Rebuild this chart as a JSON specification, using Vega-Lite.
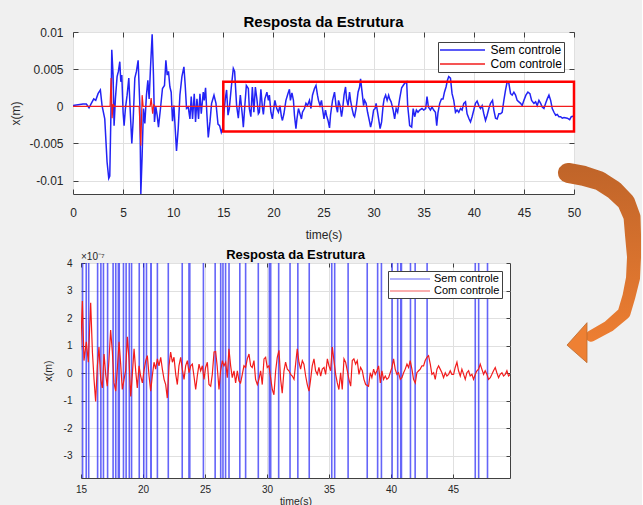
{
  "$schema": "https://vega.github.io/schema/vega-lite/v6.json",
  "background": "#f0f0f0",
  "padding": {"left": 9, "top": 14, "right": 0, "bottom": 0},
  "autosize": {"type": "pad"},
  "config": {
    "font": "Liberation Sans",
    "view": {"stroke": "#404040", "strokeWidth": 1, "fill": "white"},
    "axis": {"domain": false, "gridColor": "#e0e0e0", "tickColor": "#404040", "labelColor": "#262626", "titleColor": "#262626", "labelFont": "Liberation Sans", "titleFont": "Liberation Sans", "titleFontWeight": "normal", "labelFlush": false, "labelOverlap": false},
    "title": {"frame": "group", "anchor": "middle", "color": "#000000", "font": "Liberation Sans", "fontWeight": "bold"},
    "legend": {"title": null, "strokeColor": "#404040", "fillColor": "white", "labelColor": "#000000", "labelFont": "Liberation Sans"}
  },
  "datasets": {
    "blue": [
      {"t": 0, "v": 0.0001}, {"t": 1.0, "v": 0.0003}, {"t": 1.33, "v": 0.0003}, {"t": 1.6, "v": -0.0002}, {"t": 1.83, "v": 0.0004},
      {"t": 2.07, "v": 0.001}, {"t": 2.27, "v": 0.0008}, {"t": 2.5, "v": 0.0017}, {"t": 2.73, "v": 0.0022}, {"t": 2.9, "v": 0.0001},
      {"t": 3.17, "v": -0.0017}, {"t": 3.4, "v": -0.0075}, {"t": 3.57, "v": -0.0097}, {"t": 3.67, "v": -0.0094}, {"t": 3.8, "v": 0.0001},
      {"t": 3.87, "v": 0.0076}, {"t": 4.0, "v": 0.0042}, {"t": 4.1, "v": -0.0026}, {"t": 4.23, "v": 0.001}, {"t": 4.4, "v": 0.004},
      {"t": 4.53, "v": 0.0047}, {"t": 4.67, "v": 0.006}, {"t": 4.77, "v": 0.0033}, {"t": 4.87, "v": 0.0042}, {"t": 5.0, "v": -0.0008},
      {"t": 5.1, "v": -0.0026}, {"t": 5.23, "v": -0.0003}, {"t": 5.4, "v": 0.0015}, {"t": 5.57, "v": 0.0038}, {"t": 5.7, "v": -0.0003},
      {"t": 5.87, "v": -0.005}, {"t": 6.0, "v": -0.002}, {"t": 6.17, "v": 0.0038}, {"t": 6.33, "v": 0.0047}, {"t": 6.5, "v": 0.0062},
      {"t": 6.67, "v": 0.0001}, {"t": 6.77, "v": -0.0118}, {"t": 6.9, "v": -0.0066}, {"t": 7.03, "v": -0.0003}, {"t": 7.17, "v": -0.0023},
      {"t": 7.33, "v": 0.0015}, {"t": 7.47, "v": 0.0035}, {"t": 7.6, "v": 0.001}, {"t": 7.73, "v": 0.0051}, {"t": 7.9, "v": 0.0097},
      {"t": 8.03, "v": 0.0042}, {"t": 8.13, "v": -0.0021}, {"t": 8.27, "v": -0.0001}, {"t": 8.4, "v": -0.0012}, {"t": 8.53, "v": -0.0028},
      {"t": 8.73, "v": -0.0003}, {"t": 8.93, "v": 0.0024}, {"t": 9.13, "v": 0.0028}, {"t": 9.27, "v": 0.0062}, {"t": 9.4, "v": 0.0042},
      {"t": 9.53, "v": 0.0047}, {"t": 9.67, "v": 0.0026}, {"t": 9.8, "v": 0.0019}, {"t": 9.93, "v": -0.002}, {"t": 10.07, "v": 0.0001},
      {"t": 10.2, "v": -0.003}, {"t": 10.33, "v": -0.006}, {"t": 10.5, "v": -0.003}, {"t": 10.67, "v": 0.0015}, {"t": 10.87, "v": 0.004},
      {"t": 11.07, "v": 0.0053}, {"t": 11.2, "v": 0.0028}, {"t": 11.33, "v": -0.0003}, {"t": 11.5, "v": -0.0001}, {"t": 11.67, "v": -0.0017},
      {"t": 11.8, "v": 0.0013}, {"t": 11.93, "v": -0.0017}, {"t": 12.1, "v": 0.0017}, {"t": 12.23, "v": -0.0021}, {"t": 12.37, "v": 0.001},
      {"t": 12.53, "v": -0.0017}, {"t": 12.67, "v": 0.0017}, {"t": 12.8, "v": -0.001}, {"t": 13.0, "v": 0.0019}, {"t": 13.1, "v": 0.0008},
      {"t": 13.23, "v": 0.0025}, {"t": 13.37, "v": -0.0012}, {"t": 13.5, "v": -0.0042}, {"t": 13.67, "v": -0.0021}, {"t": 13.83, "v": 0.0004},
      {"t": 14.07, "v": 0.0015}, {"t": 14.27, "v": 0.0004}, {"t": 14.47, "v": -0.0024}, {"t": 14.63, "v": -0.0026}, {"t": 14.8, "v": -0.0035},
      {"t": 14.93, "v": -0.003}, {"t": 15.07, "v": -0.0008}, {"t": 15.2, "v": 0.001}, {"t": 15.33, "v": 0.0022}, {"t": 15.47, "v": -0.0012},
      {"t": 15.6, "v": -0.0003}, {"t": 15.8, "v": 0.0026}, {"t": 16.0, "v": 0.0051}, {"t": 16.13, "v": 0.0047}, {"t": 16.33, "v": 0.0001},
      {"t": 16.5, "v": -0.0016}, {"t": 16.7, "v": 0.0015}, {"t": 16.9, "v": -0.0012}, {"t": 17.0, "v": -0.0028}, {"t": 17.15, "v": 0.0001},
      {"t": 17.3, "v": 0.0028}, {"t": 17.5, "v": 0.0024}, {"t": 17.6, "v": -0.0003}, {"t": 17.75, "v": -0.0014}, {"t": 17.9, "v": 0.0026},
      {"t": 18.05, "v": -0.0008}, {"t": 18.2, "v": 0.0026}, {"t": 18.35, "v": 0.001}, {"t": 18.5, "v": -0.001}, {"t": 18.6, "v": -0.0008},
      {"t": 18.75, "v": 0.0023}, {"t": 18.9, "v": -0.0001}, {"t": 19.0, "v": -0.0011}, {"t": 19.15, "v": 0.001}, {"t": 19.35, "v": 0.0019},
      {"t": 19.5, "v": 0.0008}, {"t": 19.6, "v": 0.0015}, {"t": 19.75, "v": -0.0008}, {"t": 19.9, "v": -0.0017}, {"t": 20.03, "v": -0.0003},
      {"t": 20.15, "v": 0.0008}, {"t": 20.33, "v": -0.0003}, {"t": 20.5, "v": -0.0008}, {"t": 20.65, "v": 0.0001}, {"t": 20.8, "v": -0.0014},
      {"t": 20.9, "v": -0.0019}, {"t": 21.05, "v": -0.001}, {"t": 21.25, "v": 0.0008}, {"t": 21.45, "v": 0.0017}, {"t": 21.6, "v": 0.0023},
      {"t": 21.7, "v": 0.0008}, {"t": 21.85, "v": 0.0018}, {"t": 22.0, "v": 0.0008}, {"t": 22.1, "v": -0.0012}, {"t": 22.25, "v": -0.003},
      {"t": 22.35, "v": -0.0017}, {"t": 22.5, "v": -0.0003}, {"t": 22.65, "v": -0.001}, {"t": 22.8, "v": -0.0017}, {"t": 22.9, "v": -0.0008},
      {"t": 23.1, "v": -0.0003}, {"t": 23.25, "v": 0.0004}, {"t": 23.4, "v": 0.0001}, {"t": 23.6, "v": 0.0008}, {"t": 23.75, "v": -0.0003},
      {"t": 23.9, "v": 0.0015}, {"t": 24.1, "v": 0.0024}, {"t": 24.25, "v": 0.0028}, {"t": 24.4, "v": 0.0015}, {"t": 24.5, "v": 0.0008},
      {"t": 24.65, "v": 0.0001}, {"t": 24.8, "v": 0.0008}, {"t": 24.9, "v": -0.0003}, {"t": 25.05, "v": -0.0017}, {"t": 25.2, "v": -0.0005},
      {"t": 25.3, "v": -0.0012}, {"t": 25.45, "v": -0.0019}, {"t": 25.6, "v": -0.0029}, {"t": 25.7, "v": -0.0012}, {"t": 25.9, "v": 0.0008},
      {"t": 26.1, "v": 0.0019}, {"t": 26.25, "v": 0.0001}, {"t": 26.4, "v": -0.0008}, {"t": 26.5, "v": 0.0008}, {"t": 26.65, "v": 0.0001},
      {"t": 26.8, "v": -0.0014}, {"t": 26.9, "v": -0.0005}, {"t": 27.05, "v": 0.0015}, {"t": 27.2, "v": 0.0026}, {"t": 27.3, "v": 0.001},
      {"t": 27.45, "v": 0.0001}, {"t": 27.6, "v": 0.0019}, {"t": 27.7, "v": 0.0008}, {"t": 27.85, "v": -0.0003}, {"t": 28.0, "v": -0.0012},
      {"t": 28.1, "v": -0.0014}, {"t": 28.25, "v": -0.0003}, {"t": 28.45, "v": 0.0019}, {"t": 28.6, "v": 0.0026}, {"t": 28.7, "v": 0.0037},
      {"t": 28.85, "v": 0.0019}, {"t": 29.0, "v": 0.0001}, {"t": 29.1, "v": 0.0008}, {"t": 29.25, "v": 0.0004}, {"t": 29.4, "v": -0.0008},
      {"t": 29.6, "v": -0.0021}, {"t": 29.7, "v": -0.0028}, {"t": 29.85, "v": -0.0019}, {"t": 30.0, "v": -0.0005}, {"t": 30.15, "v": -0.0003},
      {"t": 30.25, "v": 0.0004}, {"t": 30.4, "v": -0.0008}, {"t": 30.5, "v": -0.0017}, {"t": 30.65, "v": -0.003}, {"t": 30.8, "v": -0.0021},
      {"t": 30.95, "v": 0.0001}, {"t": 31.05, "v": 0.001}, {"t": 31.2, "v": 0.0015}, {"t": 31.35, "v": 0.0008}, {"t": 31.5, "v": 0.0015},
      {"t": 31.6, "v": 0.001}, {"t": 31.75, "v": 0.0006}, {"t": 31.95, "v": -0.0005}, {"t": 32.1, "v": -0.0017}, {"t": 32.25, "v": -0.0003},
      {"t": 32.4, "v": -0.0008}, {"t": 32.6, "v": 0.001}, {"t": 32.8, "v": 0.0025}, {"t": 32.95, "v": 0.0028}, {"t": 33.1, "v": 0.0031},
      {"t": 33.3, "v": 0.0033}, {"t": 33.4, "v": 0.0001}, {"t": 33.6, "v": -0.0026}, {"t": 33.8, "v": -0.0028}, {"t": 33.95, "v": -0.0003},
      {"t": 34.1, "v": -0.0014}, {"t": 34.27, "v": -0.0005}, {"t": 34.43, "v": -0.0008}, {"t": 34.6, "v": -0.0005}, {"t": 34.83, "v": -0.0003},
      {"t": 35.0, "v": -0.0005}, {"t": 35.2, "v": -0.0003}, {"t": 35.33, "v": 0.0013}, {"t": 35.47, "v": -0.0001}, {"t": 35.67, "v": -0.0005},
      {"t": 35.83, "v": -0.0001}, {"t": 36.0, "v": -0.0005}, {"t": 36.17, "v": -0.0008}, {"t": 36.3, "v": -0.0026}, {"t": 36.43, "v": -0.0008},
      {"t": 36.6, "v": 0.0004}, {"t": 36.77, "v": 0.001}, {"t": 36.93, "v": 0.001}, {"t": 37.07, "v": 0.0019}, {"t": 37.23, "v": 0.0026},
      {"t": 37.37, "v": 0.0035}, {"t": 37.5, "v": 0.004}, {"t": 37.67, "v": 0.0038}, {"t": 37.83, "v": 0.0017}, {"t": 38.0, "v": 0.0008},
      {"t": 38.17, "v": -0.0008}, {"t": 38.33, "v": -0.0005}, {"t": 38.5, "v": -0.0008}, {"t": 38.67, "v": -0.0003}, {"t": 38.83, "v": -0.0005},
      {"t": 39.0, "v": 0.0004}, {"t": 39.17, "v": 0.0006}, {"t": 39.33, "v": -0.001}, {"t": 39.53, "v": -0.0017}, {"t": 39.67, "v": -0.0021},
      {"t": 39.83, "v": -0.0014}, {"t": 40.0, "v": -0.0005}, {"t": 40.17, "v": 0.0004}, {"t": 40.33, "v": 0.0007}, {"t": 40.5, "v": 0.0001},
      {"t": 40.67, "v": -0.0003}, {"t": 40.83, "v": 0.0001}, {"t": 41.0, "v": -0.001}, {"t": 41.17, "v": -0.0019}, {"t": 41.33, "v": -0.0012},
      {"t": 41.5, "v": -0.0003}, {"t": 41.67, "v": 0.0004}, {"t": 41.87, "v": 0.0008}, {"t": 42.0, "v": -0.0005}, {"t": 42.17, "v": -0.0016},
      {"t": 42.33, "v": -0.0017}, {"t": 42.5, "v": -0.001}, {"t": 42.67, "v": -0.001}, {"t": 42.83, "v": -0.0008}, {"t": 43.0, "v": 0.0008},
      {"t": 43.17, "v": 0.0022}, {"t": 43.33, "v": 0.0033}, {"t": 43.5, "v": 0.0031}, {"t": 43.67, "v": 0.0017}, {"t": 43.83, "v": 0.0015},
      {"t": 44.0, "v": 0.0019}, {"t": 44.17, "v": 0.0015}, {"t": 44.33, "v": 0.0008}, {"t": 44.5, "v": 0.0006}, {"t": 44.67, "v": 0.0004},
      {"t": 44.83, "v": 0.0001}, {"t": 45.0, "v": 0.0008}, {"t": 45.2, "v": 0.0015}, {"t": 45.4, "v": 0.0019}, {"t": 45.6, "v": 0.0017},
      {"t": 45.77, "v": 0.0008}, {"t": 46.0, "v": 0.0004}, {"t": 46.17, "v": 0.0006}, {"t": 46.33, "v": 0.0001}, {"t": 46.5, "v": 0.0008},
      {"t": 46.67, "v": 0.0004}, {"t": 46.83, "v": -0.0001}, {"t": 47.0, "v": -0.0003}, {"t": 47.17, "v": 0.0004}, {"t": 47.33, "v": 0.001},
      {"t": 47.5, "v": 0.0015}, {"t": 47.67, "v": 0.0008}, {"t": 47.83, "v": -0.0003}, {"t": 48.0, "v": -0.0008}, {"t": 48.17, "v": -0.0012},
      {"t": 48.33, "v": -0.0011}, {"t": 48.5, "v": -0.0014}, {"t": 48.67, "v": -0.0014}, {"t": 48.83, "v": -0.0016}, {"t": 49.0, "v": -0.0015},
      {"t": 49.33, "v": -0.0016}, {"t": 49.57, "v": -0.0018}, {"t": 49.73, "v": -0.0014}, {"t": 50.0, "v": -0.0013}
    ],
    "red": [
      {"t": 0, "v": 0}, {"t": 3.7, "v": 0}, {"t": 3.8, "v": 0.0038}, {"t": 3.9, "v": -0.0016}, {"t": 4.0, "v": 0.0003}, {"t": 4.1, "v": 0},
      {"t": 6.6, "v": 0}, {"t": 6.77, "v": -0.0053}, {"t": 6.9, "v": 0.0015}, {"t": 7.0, "v": 0}, {"t": 7.7, "v": 0}, {"t": 7.8, "v": 0.0011},
      {"t": 7.95, "v": -0.001}, {"t": 8.05, "v": 0.0002}, {"t": 8.2, "v": 0}, {"t": 14.8, "v": 0},
      {"t": 14.97, "v": 0.89e-7}, {"t": 15.11, "v": 2.62e-7}, {"t": 15.24, "v": 0.46e-7}, {"t": 15.43, "v": 1.14e-7}, {"t": 15.59, "v": 0.4e-7},
      {"t": 15.78, "v": 2.56e-7}, {"t": 15.92, "v": 0.77e-7}, {"t": 16.05, "v": -0.22e-7}, {"t": 16.18, "v": -1.02e-7}, {"t": 16.32, "v": 0.27e-7},
      {"t": 16.45, "v": 0.95e-7}, {"t": 16.59, "v": -0.22e-7}, {"t": 16.72, "v": -0.53e-7}, {"t": 16.86, "v": 0.7e-7}, {"t": 16.99, "v": -0.04e-7},
      {"t": 17.12, "v": -0.47e-7}, {"t": 17.26, "v": 0.52e-7}, {"t": 17.39, "v": 1.57e-7}, {"t": 17.53, "v": 0.77e-7}, {"t": 17.66, "v": -0.35e-7},
      {"t": 17.8, "v": -0.65e-7}, {"t": 17.93, "v": 0.15e-7}, {"t": 18.07, "v": 1.14e-7}, {"t": 18.2, "v": 0.33e-7}, {"t": 18.33, "v": -0.59e-7},
      {"t": 18.47, "v": -0.22e-7}, {"t": 18.6, "v": 0.09e-7}, {"t": 18.74, "v": 1.32e-7}, {"t": 18.87, "v": 0.52e-7}, {"t": 19.01, "v": -0.84e-7},
      {"t": 19.14, "v": -0.04e-7}, {"t": 19.28, "v": 0.89e-7}, {"t": 19.41, "v": 0.09e-7}, {"t": 19.54, "v": -0.53e-7}, {"t": 19.68, "v": 0.27e-7},
      {"t": 19.81, "v": -0.1e-7}, {"t": 19.95, "v": -0.35e-7}, {"t": 20.08, "v": 0.09e-7}, {"t": 20.22, "v": 0.46e-7}, {"t": 20.35, "v": 0.64e-7},
      {"t": 20.49, "v": -0.1e-7}, {"t": 20.62, "v": -0.65e-7}, {"t": 20.75, "v": -0.1e-7}, {"t": 20.89, "v": 0.4e-7}, {"t": 21.02, "v": 0.15e-7},
      {"t": 21.16, "v": 0.52e-7}, {"t": 21.29, "v": 0.27e-7}, {"t": 21.43, "v": 0.58e-7}, {"t": 21.56, "v": 0.15e-7}, {"t": 21.7, "v": -0.22e-7},
      {"t": 21.83, "v": -0.41e-7}, {"t": 21.96, "v": -0.9e-7}, {"t": 22.1, "v": 0.27e-7}, {"t": 22.23, "v": 0.77e-7}, {"t": 22.37, "v": 0.4e-7},
      {"t": 22.5, "v": 0.58e-7}, {"t": 22.64, "v": -0.04e-7}, {"t": 22.77, "v": -0.41e-7}, {"t": 22.9, "v": 0.27e-7}, {"t": 23.04, "v": 0.58e-7},
      {"t": 23.17, "v": 0.15e-7}, {"t": 23.31, "v": -0.22e-7}, {"t": 23.44, "v": 0.27e-7}, {"t": 23.58, "v": 0.46e-7}, {"t": 23.71, "v": 0.02e-7},
      {"t": 23.85, "v": 0.27e-7}, {"t": 23.98, "v": 0.33e-7}, {"t": 24.11, "v": -0.1e-7}, {"t": 24.25, "v": -0.59e-7}, {"t": 24.38, "v": -0.1e-7},
      {"t": 24.52, "v": 0.33e-7}, {"t": 24.65, "v": 0.09e-7}, {"t": 24.79, "v": 0.27e-7}, {"t": 24.92, "v": -0.22e-7}, {"t": 25.05, "v": 0.21e-7},
      {"t": 25.19, "v": 0.4e-7}, {"t": 25.32, "v": -0.41e-7}, {"t": 25.46, "v": -0.47e-7}, {"t": 25.59, "v": -0.04e-7}, {"t": 25.73, "v": 0.77e-7},
      {"t": 25.86, "v": 0.79e-7}, {"t": 25.98, "v": 0.27e-7}, {"t": 26.13, "v": -0.59e-7}, {"t": 26.26, "v": 0.09e-7}, {"t": 26.4, "v": 0.46e-7},
      {"t": 26.53, "v": 0.27e-7}, {"t": 26.67, "v": 0.4e-7}, {"t": 26.8, "v": -0.16e-7}, {"t": 26.93, "v": 0.89e-7}, {"t": 27.07, "v": 0.27e-7},
      {"t": 27.2, "v": -0.16e-7}, {"t": 27.34, "v": 0.09e-7}, {"t": 27.47, "v": -0.35e-7}, {"t": 27.61, "v": 0.09e-7}, {"t": 27.74, "v": -0.28e-7},
      {"t": 27.87, "v": -0.35e-7}, {"t": 28.01, "v": -0.04e-7}, {"t": 28.14, "v": 0.27e-7}, {"t": 28.28, "v": 0.21e-7}, {"t": 28.41, "v": 0.52e-7},
      {"t": 28.55, "v": 0.7e-7}, {"t": 28.68, "v": 0.27e-7}, {"t": 28.81, "v": 0.21e-7}, {"t": 28.95, "v": 0.46e-7}, {"t": 29.08, "v": -0.22e-7},
      {"t": 29.22, "v": -0.41e-7}, {"t": 29.35, "v": -0.22e-7}, {"t": 29.49, "v": 0.09e-7}, {"t": 29.62, "v": -0.41e-7}, {"t": 29.76, "v": 0.52e-7},
      {"t": 29.89, "v": 0.58e-7}, {"t": 30.02, "v": 0.21e-7}, {"t": 30.16, "v": 0.27e-7}, {"t": 30.29, "v": -0.16e-7}, {"t": 30.43, "v": -0.59e-7},
      {"t": 30.56, "v": -0.78e-7}, {"t": 30.7, "v": 0.09e-7}, {"t": 30.83, "v": 0.58e-7}, {"t": 30.97, "v": 0.83e-7}, {"t": 31.1, "v": -0.22e-7},
      {"t": 31.23, "v": -0.72e-7}, {"t": 31.37, "v": 0.09e-7}, {"t": 31.5, "v": 0.4e-7}, {"t": 31.64, "v": 0.15e-7}, {"t": 31.77, "v": 0.09e-7},
      {"t": 31.91, "v": -0.04e-7}, {"t": 32.04, "v": -0.1e-7}, {"t": 32.18, "v": -0.22e-7}, {"t": 32.31, "v": 0.33e-7}, {"t": 32.44, "v": 0.89e-7},
      {"t": 32.58, "v": 0.4e-7}, {"t": 32.71, "v": 0.15e-7}, {"t": 32.85, "v": 0.46e-7}, {"t": 32.98, "v": 0.33e-7}, {"t": 33.12, "v": -0.1e-7},
      {"t": 33.25, "v": -0.41e-7}, {"t": 33.39, "v": -0.65e-7}, {"t": 33.52, "v": -0.22e-7}, {"t": 33.65, "v": 0.27e-7}, {"t": 33.79, "v": 0.52e-7},
      {"t": 33.92, "v": 0.09e-7}, {"t": 34.06, "v": -0.04e-7}, {"t": 34.19, "v": 0.21e-7}, {"t": 34.33, "v": -0.1e-7}, {"t": 34.46, "v": 0.15e-7},
      {"t": 34.6, "v": 0.21e-7}, {"t": 34.73, "v": -0.04e-7}, {"t": 34.87, "v": 0.52e-7}, {"t": 35.0, "v": 0.27e-7}, {"t": 35.13, "v": 0.09e-7},
      {"t": 35.27, "v": 0.95e-7}, {"t": 35.4, "v": 0.46e-7}, {"t": 35.54, "v": -0.04e-7}, {"t": 35.67, "v": -0.35e-7}, {"t": 35.8, "v": -0.59e-7},
      {"t": 35.94, "v": 0.02e-7}, {"t": 36.07, "v": -0.59e-7}, {"t": 36.21, "v": 0.52e-7}, {"t": 36.34, "v": 0.4e-7}, {"t": 36.48, "v": 0.09e-7},
      {"t": 36.61, "v": -0.22e-7}, {"t": 36.75, "v": -0.47e-7}, {"t": 36.88, "v": 0.46e-7}, {"t": 37.01, "v": 0.52e-7}, {"t": 37.15, "v": 0.33e-7},
      {"t": 37.28, "v": 0.46e-7}, {"t": 37.42, "v": -0.04e-7}, {"t": 37.55, "v": 0.21e-7}, {"t": 37.69, "v": 0.09e-7}, {"t": 37.82, "v": -0.22e-7},
      {"t": 37.96, "v": -0.41e-7}, {"t": 38.19, "v": -0.47e-7}, {"t": 38.33, "v": 0.02e-7}, {"t": 38.46, "v": -0.16e-7}, {"t": 38.6, "v": 0.15e-7},
      {"t": 38.73, "v": -0.04e-7}, {"t": 38.87, "v": 0.09e-7}, {"t": 39.0, "v": 0.27e-7}, {"t": 39.14, "v": -0.35e-7}, {"t": 39.27, "v": 0.09e-7},
      {"t": 39.4, "v": -0.22e-7}, {"t": 39.54, "v": -0.1e-7}, {"t": 39.67, "v": -0.22e-7}, {"t": 39.81, "v": -0.16e-7}, {"t": 39.94, "v": 0.02e-7},
      {"t": 40.08, "v": 0.21e-7}, {"t": 40.21, "v": 0.52e-7}, {"t": 40.34, "v": 0.15e-7}, {"t": 40.48, "v": -0.04e-7}, {"t": 40.61, "v": 0.02e-7},
      {"t": 40.75, "v": -0.22e-7}, {"t": 40.88, "v": -0.16e-7}, {"t": 41.02, "v": 0.02e-7}, {"t": 41.15, "v": 0.15e-7}, {"t": 41.29, "v": 0.33e-7},
      {"t": 41.42, "v": 0.21e-7}, {"t": 41.55, "v": 0.46e-7}, {"t": 41.69, "v": 0.15e-7}, {"t": 41.82, "v": -0.22e-7}, {"t": 41.96, "v": -0.35e-7},
      {"t": 42.09, "v": 0.02e-7}, {"t": 42.23, "v": 0.09e-7}, {"t": 42.36, "v": 0.15e-7}, {"t": 42.5, "v": 0.27e-7}, {"t": 42.63, "v": 0.27e-7},
      {"t": 42.76, "v": 0.46e-7}, {"t": 42.9, "v": 0.58e-7}, {"t": 43.03, "v": 0.64e-7}, {"t": 43.17, "v": 0.33e-7}, {"t": 43.3, "v": -0.04e-7},
      {"t": 43.44, "v": 0.02e-7}, {"t": 43.57, "v": -0.22e-7}, {"t": 43.71, "v": 0.15e-7}, {"t": 43.84, "v": 0.27e-7}, {"t": 43.97, "v": 0.15e-7},
      {"t": 44.11, "v": 0.02e-7}, {"t": 44.24, "v": -0.16e-7}, {"t": 44.38, "v": 0.02e-7}, {"t": 44.51, "v": -0.1e-7}, {"t": 44.65, "v": -0.04e-7},
      {"t": 44.78, "v": 0.09e-7}, {"t": 44.91, "v": -0.04e-7}, {"t": 45.05, "v": -0.04e-7}, {"t": 45.18, "v": 0.21e-7}, {"t": 45.32, "v": 0.4e-7},
      {"t": 45.45, "v": 0.09e-7}, {"t": 45.59, "v": -0.1e-7}, {"t": 45.72, "v": 0.15e-7}, {"t": 45.86, "v": -0.04e-7}, {"t": 45.99, "v": -0.22e-7},
      {"t": 46.12, "v": 0.02e-7}, {"t": 46.26, "v": 0.09e-7}, {"t": 46.39, "v": -0.1e-7}, {"t": 46.53, "v": -0.04e-7}, {"t": 46.66, "v": -0.22e-7},
      {"t": 46.8, "v": -0.04e-7}, {"t": 46.93, "v": 0.09e-7}, {"t": 47.07, "v": 0.15e-7}, {"t": 47.2, "v": 0.33e-7}, {"t": 47.33, "v": 0.15e-7},
      {"t": 47.47, "v": -0.04e-7}, {"t": 47.6, "v": 0.09e-7}, {"t": 47.74, "v": -0.04e-7}, {"t": 47.87, "v": -0.22e-7}, {"t": 48.01, "v": -0.16e-7},
      {"t": 48.14, "v": -0.04e-7}, {"t": 48.27, "v": 0.09e-7}, {"t": 48.41, "v": 0.21e-7}, {"t": 48.54, "v": 0.02e-7}, {"t": 48.68, "v": -0.16e-7},
      {"t": 48.81, "v": -0.04e-7}, {"t": 48.95, "v": 0.02e-7}, {"t": 49.08, "v": -0.1e-7}, {"t": 49.22, "v": -0.04e-7}, {"t": 49.35, "v": 0.09e-7},
      {"t": 49.48, "v": -0.1e-7}, {"t": 49.62, "v": -0.04e-7}, {"t": 50.0, "v": -0.04e-7}
    ],
    "arrow": [
      {"i": 1, "t": 49.40, "v": -0.00896, "w": 20},
      {"i": 2, "t": 51.00, "v": -0.00937, "w": 20},
      {"i": 3, "t": 52.59, "v": -0.01004, "w": 19},
      {"i": 4, "t": 53.99, "v": -0.01125, "w": 19},
      {"i": 5, "t": 55.19, "v": -0.01287, "w": 18},
      {"i": 6, "t": 55.79, "v": -0.01489, "w": 17},
      {"i": 7, "t": 55.89, "v": -0.01732, "w": 16},
      {"i": 8, "t": 55.99, "v": -0.02028, "w": 14},
      {"i": 9, "t": 55.89, "v": -0.02311, "w": 14},
      {"i": 10, "t": 55.49, "v": -0.02554, "w": 13},
      {"i": 11, "t": 54.99, "v": -0.02783, "w": 13},
      {"i": 12, "t": 53.49, "v": -0.02958, "w": 12},
      {"i": 13, "t": 51.70, "v": -0.03093, "w": 11}
    ]
  },
  "resolve": {"scale": {"color": "independent"}, "legend": {"color": "independent"}},
  "bounds": "flush",
  "spacing": 69,
  "vconcat": [
    {
      "width": 501,
      "height": 162,
      "title": {"text": "Resposta da Estrutura", "fontSize": 15, "offset": -4},
      "resolve": {"axis": {"x": "independent", "y": "independent"}},
      "layer": [
        {
          "data": {"name": "blue"},
          "mark": {"type": "line", "strokeWidth": 1.5, "clip": true},
          "encoding": {
            "x": {"field": "t", "type": "quantitative", "scale": {"domain": [0, 50], "nice": false, "zero": false},
                  "axis": {"orient": "bottom", "values": [0, 5, 10, 15, 20, 25, 30, 35, 40, 45, 50], "title": "time(s)", "titleFontSize": 12, "labelFontSize": 12, "tickSize": -5, "labelPadding": 18, "titlePadding": 11, "grid": true}},
            "y": {"field": "v", "type": "quantitative", "scale": {"domain": [-0.0118, 0.01], "nice": false, "zero": false},
                  "axis": {"orient": "left", "values": [-0.01, -0.005, 0, 0.005, 0.01], "labelExpr": "'' + datum.value", "title": "x(m)", "titleFontSize": 12, "labelFontSize": 12, "tickSize": -5, "labelPadding": 15, "titlePadding": 6, "grid": true}},
            "color": {"datum": "Sem controle", "type": "nominal",
                      "scale": {"domain": ["Sem controle", "Com controle"], "range": ["#2323f5", "#f21c1c"]},
                      "legend": {"orient": "top-right", "offset": 10, "symbolType": "M -4.5 0 L 4.5 0", "symbolSize": 100, "symbolOffset": 16.5, "symbolStrokeWidth": 1.3, "labelFontSize": 12, "labelOffset": 22, "padding": 2, "rowPadding": 2}}
          }
        },
        {
          "data": {"name": "red"},
          "mark": {"type": "line", "strokeWidth": 1.2, "clip": true},
          "encoding": {
            "x": {"field": "t", "type": "quantitative", "scale": {"domain": [0, 50], "nice": false, "zero": false},
                  "axis": {"orient": "top", "values": [0, 5, 10, 15, 20, 25, 30, 35, 40, 45, 50], "labels": false, "title": null, "grid": false, "tickSize": -5}},
            "y": {"field": "v", "type": "quantitative", "scale": {"domain": [-0.0118, 0.01], "nice": false, "zero": false},
                  "axis": {"orient": "right", "values": [-0.01, -0.005, 0, 0.005, 0.01], "labels": false, "title": null, "grid": false, "tickSize": -5}},
            "color": {"datum": "Com controle", "type": "nominal"}
          }
        },
        {
          "data": {"values": [{"t0": 15, "t1": 50, "v0": -0.0034, "v1": 0.0033}]},
          "mark": {"type": "rect", "fillOpacity": 0, "stroke": "#ff0000", "strokeWidth": 2.5},
          "encoding": {
            "x": {"field": "t0", "type": "quantitative", "scale": {"domain": [0, 50], "nice": false, "zero": false}, "axis": null},
            "x2": {"field": "t1"},
            "y": {"field": "v0", "type": "quantitative", "scale": {"domain": [-0.0118, 0.01], "nice": false, "zero": false}, "axis": null},
            "y2": {"field": "v1"}
          }
        },
        {
          "data": {"name": "arrow"},
          "mark": {"type": "trail", "color": {"gradient": "linear", "x1": 0, "y1": 0, "x2": 0, "y2": 1, "stops": [{"offset": 0, "color": "#bf6429"}, {"offset": 1, "color": "#ed7e32"}]}},
          "encoding": {
            "x": {"field": "t", "type": "quantitative", "scale": {"domain": [0, 50], "nice": false, "zero": false}, "axis": null},
            "y": {"field": "v", "type": "quantitative", "scale": {"domain": [-0.0118, 0.01], "nice": false, "zero": false}, "axis": null},
            "size": {"field": "w", "type": "quantitative", "scale": null},
            "order": {"field": "i"}
          }
        },
        {
          "data": {"values": [{"t": 50.3, "v": -0.03181}]},
          "mark": {"type": "point", "filled": true, "opacity": 1, "color": "#ee8033", "stroke": "#b9692f", "strokeWidth": 0.8, "shape": "M 0.5 -1 L -0.5 0.12 L 0.5 1 Z", "size": 1600},
          "encoding": {
            "x": {"field": "t", "type": "quantitative", "scale": {"domain": [0, 50], "nice": false, "zero": false}, "axis": null},
            "y": {"field": "v", "type": "quantitative", "scale": {"domain": [-0.0118, 0.01], "nice": false, "zero": false}, "axis": null}
          }
        }
      ]
    },
    {
      "bounds": "flush",
      "spacing": 0,
      "resolve": {"scale": {"color": "independent"}, "legend": {"color": "independent"}},
      "hconcat": [
        {
          "width": 8,
          "height": 215,
          "view": {"stroke": null, "fill": null},
          "data": {"values": []},
          "mark": "point"
        },
        {
          "width": 429,
          "height": 215,
          "title": {"text": "Resposta da Estrutura", "fontSize": 13, "offset": -10},
          "resolve": {"axis": {"x": "independent", "y": "independent"}},
          "layer": [
            {
              "data": {"name": "blue"},
              "mark": {"type": "line", "strokeWidth": 1.6, "opacity": 0.7, "clip": true},
              "encoding": {
                "x": {"field": "t", "type": "quantitative", "scale": {"domain": [15, 49.6], "nice": false, "zero": false},
                      "axis": {"orient": "bottom", "values": [15, 20, 25, 30, 35, 40, 45], "title": "time(s)", "titleFontSize": 10.5, "labelFontSize": 10, "tickSize": -4, "labelPadding": 10, "titlePadding": 2, "grid": true}},
                "y": {"field": "v", "type": "quantitative", "scale": {"domain": [-3.8e-7, 4e-7], "nice": false, "zero": false},
                      "axis": {"orient": "left", "values": [-3e-7, -2e-7, -1e-7, 0, 1e-7, 2e-7, 3e-7, 4e-7], "labelExpr": "'' + round(datum.value * 1e7)", "title": "x(m)", "titleFontSize": 10.5, "labelFontSize": 10, "tickSize": -4, "labelPadding": 13, "titlePadding": 10, "grid": true}},
                "color": {"datum": "Sem controle", "type": "nominal",
                          "scale": {"domain": ["Sem controle", "Com controle"], "range": ["#2323f5", "#f21c1c"]},
                          "legend": {"orient": "top-right", "offset": 8, "symbolType": "M -4 0 L 4 0", "symbolSize": 100, "symbolOffset": 14, "symbolStrokeWidth": 1.2, "labelFontSize": 11, "labelOffset": 18, "padding": 2, "rowPadding": 1}}
              }
            },
            {
              "data": {"name": "red"},
              "mark": {"type": "line", "strokeWidth": 1.2, "clip": true},
              "encoding": {
                "x": {"field": "t", "type": "quantitative", "scale": {"domain": [15, 49.6], "nice": false, "zero": false},
                      "axis": {"orient": "top", "values": [15, 20, 25, 30, 35, 40, 45], "labels": false, "title": null, "grid": false, "tickSize": -4}},
                "y": {"field": "v", "type": "quantitative", "scale": {"domain": [-3.8e-7, 4e-7], "nice": false, "zero": false},
                      "axis": {"orient": "right", "values": [-3e-7, -2e-7, -1e-7, 0, 1e-7, 2e-7, 3e-7, 4e-7], "labels": false, "title": null, "grid": false, "tickSize": -4}},
                "color": {"datum": "Com controle", "type": "nominal"}
              }
            },
            {
              "data": {"values": [{"t": 15, "v": 4e-7, "label": "×10⁻⁷"}]},
              "mark": {"type": "text", "align": "left", "baseline": "bottom", "dy": -1, "fontSize": 10, "color": "#262626"},
              "encoding": {
                "x": {"field": "t", "type": "quantitative", "scale": {"domain": [15, 49.6], "nice": false, "zero": false}, "axis": null},
                "y": {"field": "v", "type": "quantitative", "scale": {"domain": [-3.8e-7, 4e-7], "nice": false, "zero": false}, "axis": null},
                "text": {"field": "label"}
              }
            }
          ]
        }
      ]
    }
  ]
}
